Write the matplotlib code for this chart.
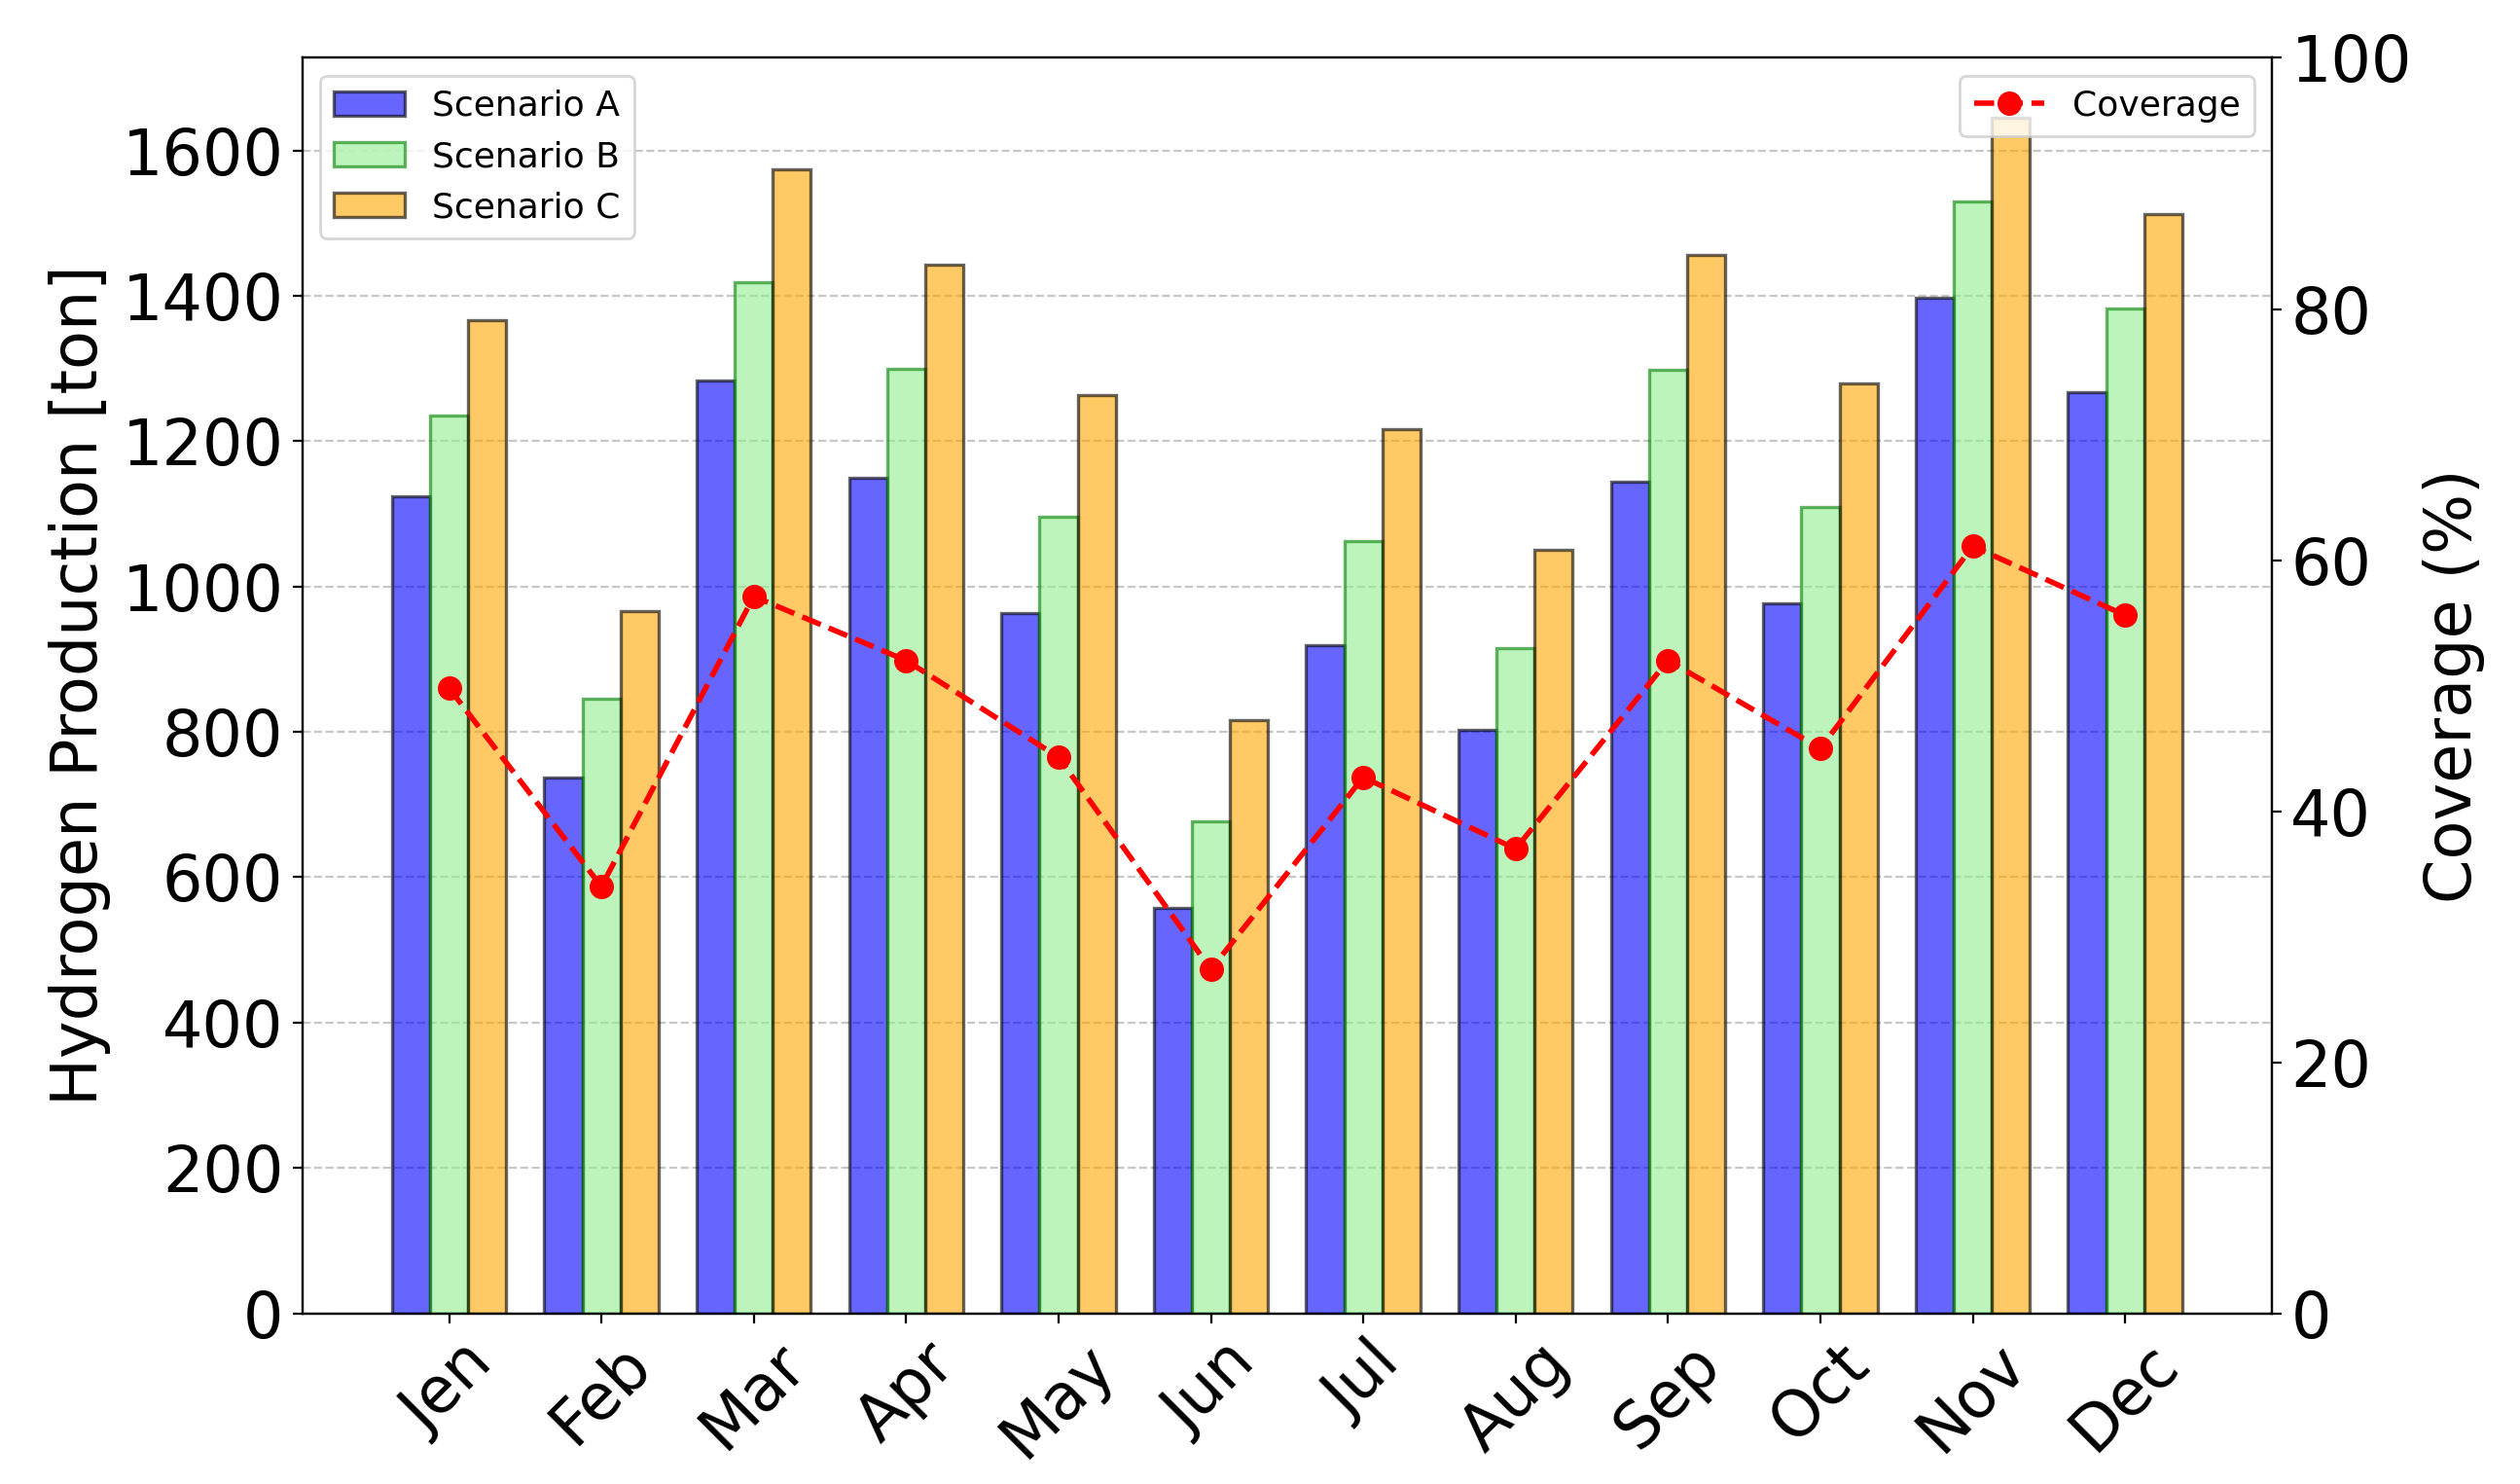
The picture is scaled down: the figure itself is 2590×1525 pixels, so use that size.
import matplotlib
matplotlib.use("Agg")
import matplotlib.pyplot as plt
import numpy as np

# monthly data
months = ['Jen', 'Feb', 'Mar', 'Apr', 'May', 'Jun', 'Jul', 'Aug', 'Sep', 'Oct', 'Nov', 'Dec']
scenario_a = [1124, 737, 1283, 1150, 963, 558, 919, 803, 1144, 977, 1397, 1267]
scenario_b = [1235, 846, 1418, 1300, 1096, 677, 1063, 915, 1298, 1109, 1530, 1382]
scenario_c = [1367, 966, 1574, 1443, 1263, 816, 1217, 1050, 1456, 1280, 1645, 1512]
coverage = [49.8, 34.0, 57.1, 52.0, 44.3, 27.4, 42.7, 37.0, 52.0, 45.0, 61.1, 55.6]

x = np.arange(len(months))
width = 0.25

fig, ax1 = plt.subplots(figsize=(12.95, 7.625), dpi=200)
fig.subplots_adjust(left=0.12, right=0.9015, top=0.961, bottom=0.115)

ax1.bar(x - width, scenario_a, width, label='Scenario A', color='blue', edgecolor='black', alpha=0.6, linewidth=1.2)
ax1.bar(x, scenario_b, width, label='Scenario B', color='lightgreen', edgecolor='green', alpha=0.6, linewidth=1.2)
ax1.bar(x + width, scenario_c, width, label='Scenario C', color='orange', edgecolor='black', alpha=0.6, linewidth=1.2)

ax1.set_ylabel('Hydrogen Production [ton]', fontsize=23.5)
ax1.set_xticks(x)
ax1.set_xticklabels(months, rotation=45, fontsize=23.5)
ax1.tick_params(axis='y', labelsize=23.5)
ax1.grid(axis='y', linestyle='--', alpha=0.7)
ax1.set_axisbelow(True)
ax1.legend(loc='upper left', fontsize=13)

ax2 = ax1.twinx()
ax2.plot(x, coverage, 'r--o', label='Coverage', linewidth=2, markersize=8)
ax2.set_ylabel('Coverage (%)', fontsize=23.5)
ax2.set_ylim(0, 100)
ax2.tick_params(axis='y', labelsize=23.5)
ax2.legend(loc='upper right', fontsize=13)

fig.savefig('out.png', dpi=200)
